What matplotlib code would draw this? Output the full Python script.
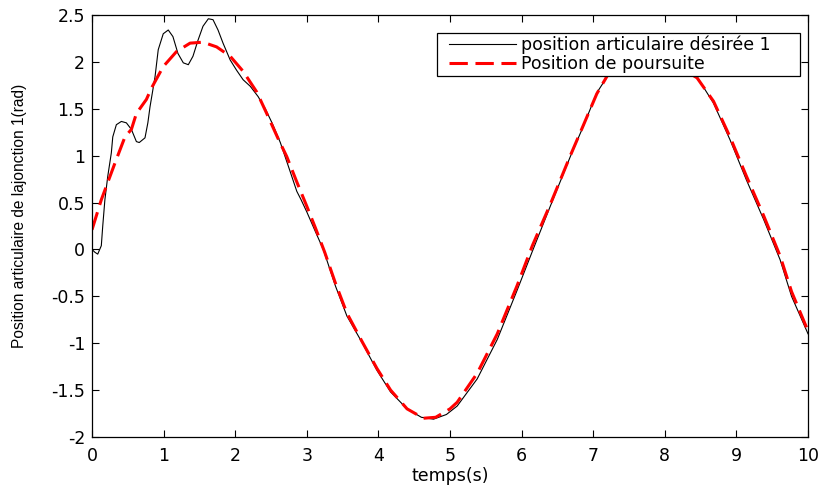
import matplotlib
matplotlib.use("Agg")
import matplotlib.pyplot as plt
from matplotlib.legend_handler import HandlerLine2D

# position articulaire désirée
t_des = [0.0, 0.04, 0.08, 0.13, 0.15, 0.18, 0.22, 0.27, 0.29, 0.34, 0.41, 0.48,
         0.55, 0.62, 0.66, 0.74, 0.78, 0.81, 0.88, 0.925, 0.995, 1.065, 1.13,
         1.20, 1.275, 1.345, 1.41, 1.48, 1.55, 1.625, 1.69, 1.76, 1.83, 1.93,
         2.02, 2.11, 2.21, 2.32, 2.42, 2.52, 2.63, 2.75, 2.86, 2.92, 3.0, 3.12,
         3.23, 3.40, 3.56, 3.77, 3.98, 4.17, 4.40, 4.60, 4.77, 4.95, 5.10,
         5.38, 5.66, 5.94, 6.15, 6.40, 6.68, 6.86, 7.05, 7.21, 7.40, 7.60,
         7.85, 8.10, 8.30, 8.45, 8.68, 8.91, 9.14, 9.38, 9.61, 9.77, 10.0]
y_des = [0.0, -0.03, -0.05, 0.04, 0.25, 0.53, 0.78, 1.03, 1.20, 1.33, 1.365, 1.35,
         1.28, 1.15, 1.14, 1.19, 1.35, 1.52, 1.84, 2.13, 2.30, 2.34, 2.27,
         2.09, 1.99, 1.97, 2.06, 2.23, 2.38, 2.46, 2.45, 2.34, 2.20, 2.02,
         1.91, 1.81, 1.74, 1.63, 1.50, 1.34, 1.14, 0.87, 0.62, 0.53, 0.40, 0.19,
         0.0, -0.39, -0.71, -0.99, -1.29, -1.52, -1.70, -1.79, -1.81, -1.76, -1.67,
         -1.38, -0.96, -0.43, -0.02, 0.46, 0.99, 1.31, 1.67, 1.86, 1.97, 2.02,
         2.03, 1.99, 1.90, 1.84, 1.56, 1.17, 0.74, 0.32, -0.11, -0.50, -0.90]

# position de poursuite
t_pou = [0.0, 0.13, 0.32, 0.46, 0.55, 0.62, 0.76, 0.83, 0.995, 1.18, 1.37, 1.55,
         1.74, 1.93, 2.11, 2.30, 2.44, 2.60, 2.72, 2.86, 3.0, 3.12, 3.25, 3.40,
         3.56, 3.77, 3.98, 4.17, 4.40, 4.63, 4.80, 5.0, 5.10, 5.38, 5.66, 5.94,
         6.15, 6.40, 6.68, 6.86, 7.05, 7.21, 7.40, 7.60, 7.85, 8.10, 8.30, 8.45,
         8.68, 8.91, 9.14, 9.38, 9.61, 9.77, 10.0]
y_pou = [0.21, 0.53, 0.92, 1.20, 1.28, 1.45, 1.60, 1.72, 1.95, 2.11, 2.20, 2.21,
         2.16, 2.06, 1.90, 1.68, 1.45, 1.18, 0.99, 0.72, 0.46, 0.23, -0.03, -0.36,
         -0.68, -0.98, -1.27, -1.50, -1.70, -1.80, -1.79, -1.70, -1.63, -1.32, -0.90, -0.38,
         0.04, 0.48, 1.00, 1.32, 1.66, 1.87, 1.97, 2.02, 2.04, 2.00, 1.90, 1.83,
         1.58, 1.20, 0.78, 0.36, -0.07, -0.45, -0.87]

plt.rcParams['font.family'] = ['DejaVu Sans']

fig = plt.figure(figsize=(8.2, 4.87), dpi=100)
ax = fig.add_axes([0.1122, 0.1027, 0.8732, 0.8665])

l1, = ax.plot(t_des, y_des, color='black', linewidth=0.8, label='position articulaire désirée 1')
l2, = ax.plot(t_pou, y_pou, color='red', linewidth=2.2, dashes=(6, 2.5), label='Position de poursuite')

ax.set_xlim(0, 10)
ax.set_ylim(-2, 2.5)
ax.set_xticks(range(0, 11))
ax.set_yticks([-2, -1.5, -1, -0.5, 0, 0.5, 1, 1.5, 2, 2.5])
ax.set_yticklabels(['-2', '-1.5', '-1', '-0.5', '0', '0.5', '1', '1.5', '2', '2.5'])
ax.tick_params(direction='in', length=5, width=0.8, top=True, right=True, labelsize=12.5)
ax.tick_params(axis='x', pad=7)
ax.tick_params(axis='y', pad=5)
for s in ax.spines.values():
    s.set_linewidth(0.9)

ax.set_xlabel('temps(s)', fontsize=12.5, labelpad=1.5)
ax.set_ylabel('Position articulaire de lajonction 1(rad)', fontsize=11.2,
              family='Liberation Sans')
ax.yaxis.set_label_coords(-0.0908, 0.524)

# legende style matlab : marge a gauche du trait, espace a droite du texte
hmap = {l1: HandlerLine2D(xpad=0.55), l2: HandlerLine2D(xpad=0.55)}
leg = ax.legend(handler_map=hmap, loc='upper right', mode='expand',
                bbox_to_anchor=(0.4818, 0.8, 0.507, 0.157), fontsize=12.5,
                fancybox=False, framealpha=1, edgecolor='black', handlelength=4.4,
                handletextpad=0.3, borderpad=0.15, labelspacing=0.05, borderaxespad=0)
leg.get_frame().set_linewidth(0.9)

fig.savefig('out.png', dpi=100)
